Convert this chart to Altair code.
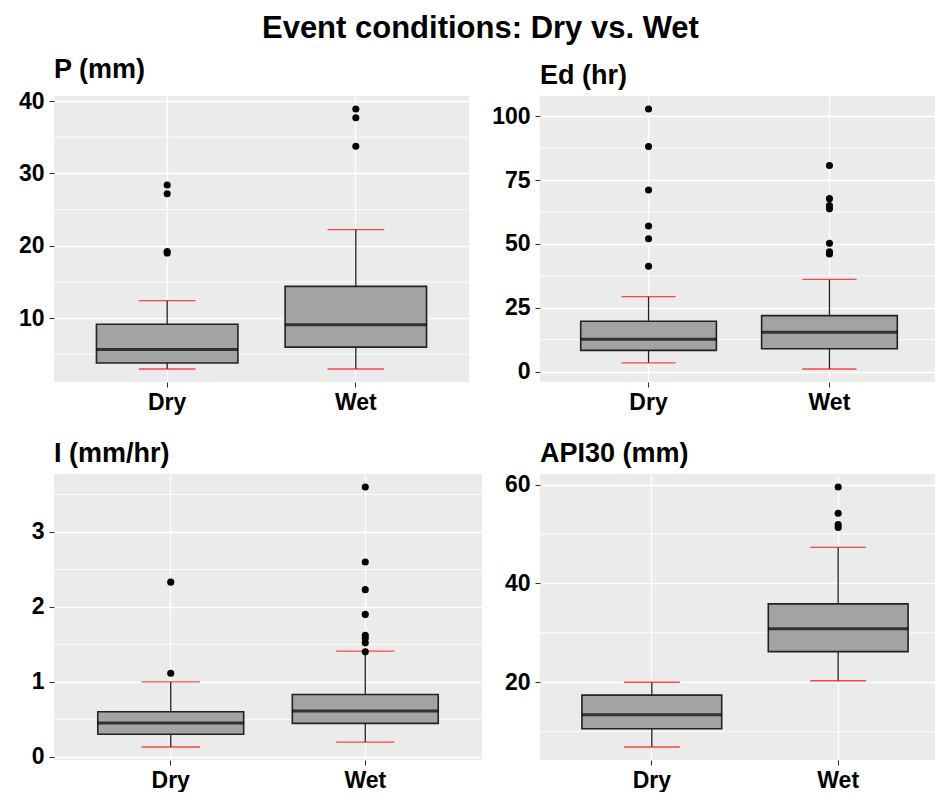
import altair as alt
import pandas as pd

FONT = "Liberation Sans"
GROUPS = ["Dry", "Wet"]

# box statistics per group: lower whisker, Q1, median, Q3, upper whisker
P_dry = [2.98, 3.81, 5.68, 9.17, 12.42]
P_wet = [2.98, 6.00, 9.08, 14.40, 22.24]
P_out_dry = [28.4, 27.2, 19.2, 19.0]
P_out_wet = [38.9, 37.7, 33.75]
P_major = [10, 20, 30, 40]
P_minor = [5, 15, 25, 35]

Ed_dry = [3.4, 8.3, 12.6, 19.7, 29.3]
Ed_wet = [1.0, 8.9, 15.4, 21.9, 36.1]
Ed_out_dry = [102.8, 88.1, 71.1, 57.0, 52.0, 41.2]
Ed_out_wet = [80.7, 67.7, 65.0, 63.7, 50.2, 46.9, 46.0]
Ed_major = [0, 25, 50, 75, 100]
Ed_minor = [12.5, 37.5, 62.5, 87.5]

I_dry = [0.13, 0.30, 0.45, 0.60, 1.00]
I_wet = [0.195, 0.445, 0.61, 0.83, 1.41]
I_out_dry = [2.33, 1.115]
I_out_wet = [3.6, 2.6, 2.23, 1.90, 1.62, 1.58, 1.52, 1.40]
I_major = [0, 1, 2, 3]
I_minor = [0.5, 1.5, 2.5, 3.5]

A_dry = [6.9, 10.6, 13.4, 17.4, 20.0]
A_wet = [20.3, 26.2, 30.8, 35.85, 47.3]
A_out_dry = []
A_out_wet = [59.5, 54.2, 51.9, 51.3]
A_major = [20, 40, 60]
A_minor = [10, 30, 50]

HEIGHT = 286


def panel(title, dry, wet, out_dry, out_wet, major, minor, width):
    stats = pd.DataFrame(
        [[g] + s for g, s in zip(GROUPS, [dry, wet])],
        columns=["group", "lo", "q1", "med", "q3", "hi"],
    )
    outl = pd.DataFrame(
        {"group": ["Dry"] * len(out_dry) + ["Wet"] * len(out_wet),
         "value": out_dry + out_wet}
    )
    minor_df = pd.DataFrame({"v": minor})

    allv = dry + wet + out_dry + out_wet
    lo, hi = min(allv), max(allv)
    r = hi - lo
    yscale = alt.Scale(domain=[lo - 0.05 * r, hi + 0.05 * r], nice=False, zero=False)
    yaxis = alt.Axis(
        values=major, title=None, grid=True, gridColor="white", gridWidth=1.4,
        domain=False, tickColor="#333333", tickSize=5, tickWidth=1.1,
        labelFont=FONT, labelFontSize=23, labelFontWeight="bold",
        labelColor="black", labelPadding=5,
    )
    xscale = alt.Scale(domain=GROUPS, paddingInner=0, paddingOuter=0.1)
    xaxis = alt.Axis(
        title=None, labelAngle=0, bandPosition=0.5, grid=True, gridColor="white",
        gridWidth=1.4, domain=False, tickColor="#333333", tickSize=5, tickWidth=1.1,
        labelFont=FONT, labelFontSize=23, labelFontWeight="bold",
        labelColor="black", labelPadding=4,
    )
    xenc = alt.X("group:N", scale=xscale, axis=xaxis)
    step = width / 2.2

    def Y(f):
        return alt.Y(f, type="quantitative", scale=yscale, axis=yaxis)

    minor_layer = alt.Chart(minor_df).mark_rule(color="white", strokeWidth=0.9).encode(y=Y("v"))
    whisk = alt.Chart(stats).mark_rule(color="#222222", strokeWidth=1.3).encode(
        x=xenc, y=Y("lo"), y2="hi")
    err_lo = alt.Chart(stats).mark_tick(color="#FF0000", size=step * 0.3, thickness=1.3).encode(
        x=xenc, y=Y("lo"))
    err_hi = alt.Chart(stats).mark_tick(color="#FF0000", size=step * 0.3, thickness=1.3).encode(
        x=xenc, y=Y("hi"))
    box = alt.Chart(stats).mark_bar(
        fill="#A3A3A3", stroke="#222222", strokeWidth=1.6,
        width=alt.RelativeBandSize(0.75),
    ).encode(x=xenc, y=Y("q1"), y2="q3")
    med = alt.Chart(stats).mark_tick(color="black", size=step * 0.75, thickness=3).encode(
        x=xenc, y=Y("med"))
    pts = alt.Chart(outl).mark_circle(color="black", size=50, opacity=1).encode(
        x=xenc, y=Y("value"))

    return alt.layer(minor_layer, whisk, err_lo, err_hi, box, med, pts).properties(
        width=width, height=HEIGHT,
        title=alt.TitleParams(
            text=title, anchor="start", frame="group", font=FONT, fontSize=27,
            fontWeight="bold", color="black", offset=6,
        ),
    )


p1 = panel("P (mm)", P_dry, P_wet, P_out_dry, P_out_wet, P_major, P_minor, 415)
p2 = panel("Ed (hr)", Ed_dry, Ed_wet, Ed_out_dry, Ed_out_wet, Ed_major, Ed_minor, 398)
p3 = panel("I (mm/hr)", I_dry, I_wet, I_out_dry, I_out_wet, I_major, I_minor, 428)
p4 = panel("API30 (mm)", A_dry, A_wet, A_out_dry, A_out_wet, A_major, A_minor, 410)

row1 = alt.hconcat(p1, p2, spacing=21)
row2 = alt.hconcat(p3, p4, spacing=21)

chart = alt.vconcat(row1, row2, spacing=25).properties(
    title=alt.TitleParams(
        text="Event conditions: Dry vs. Wet", anchor="middle", font=FONT,
        fontSize=31, fontWeight="bold", color="black", offset=11, dx=-4,
    ),
    padding={"left": 10, "top": 5, "right": -16, "bottom": 0},
    background="white",
).configure_view(fill="#EBEBEB", stroke=None)

chart.save("out.html", embed_options={"renderer": "svg", "actions": False})
